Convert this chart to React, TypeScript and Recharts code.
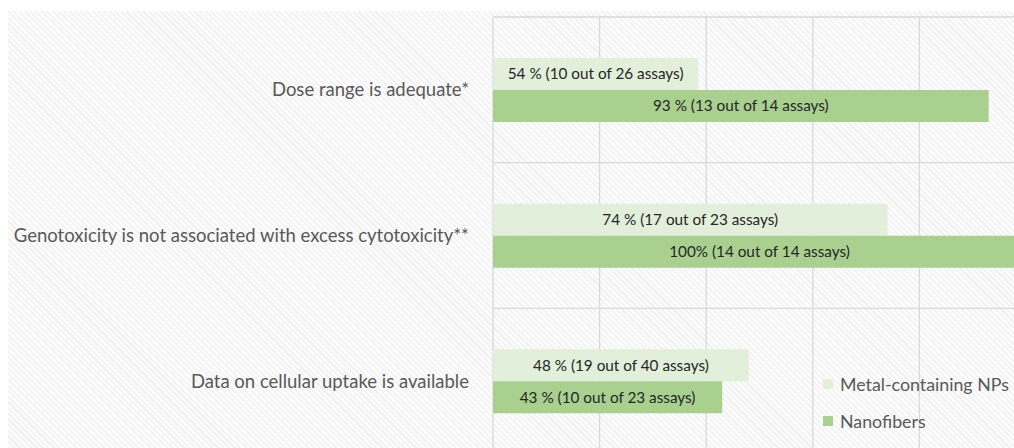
import { BarChart, Bar, XAxis, YAxis, CartesianGrid, LabelList } from "recharts"

// criteria (y axis), top to bottom
const categories = [
  "Dose range is adequate*",
  "Genotoxicity is not associated with excess cytotoxicity**",
  "Data on cellular uptake is available",
]

// bar lengths in % as drawn
const metalValues = [38.5, 74, 48]
const nanoValues = [93, 100, 43]

// text printed on the bars
const metalLabels = ["54 % (10 out of 26 assays)", "74 % (17 out of 23 assays)", "48 % (19 out of 40 assays)"]
const nanoLabels = ["93 % (13 out of 14 assays)", "100% (14 out of 14 assays)", "43 % (10 out of 23 assays)"]

const xTicks = [0, 20, 40, 60, 80, 100]

const data = categories.map((name, i) => ({
  name,
  metal: metalValues[i],
  nano: nanoValues[i],
  metalLabel: metalLabels[i],
  nanoLabel: nanoLabels[i],
}))

const FONT = "Lato, 'Open Sans', sans-serif"

const legendItems = [
  { name: "Metal-containing NPs", color: "#e2efda" },
  { name: "Nanofibers", color: "#a9d08e" },
]

// legend sits inside the plot, bottom right, like the Excel original
function LegendBox() {
  return (
    <div style={{ position: "absolute", left: 815, top: 354, fontFamily: FONT, fontSize: 17.8, color: "#595959" }}>
      {legendItems.map((it) => (
        <div key={it.name} style={{ display: "flex", alignItems: "center", height: 37, whiteSpace: "nowrap" }}>
          <span style={{ width: 10, height: 10, background: it.color, marginRight: 7, display: "inline-block" }} />
          {it.name}
        </div>
      ))}
    </div>
  )
}

export default function App() {
  return (
    <div style={{ position: "fixed", inset: 0, overflow: "hidden", background: "#fff" }}>
      <div
        style={{
          position: "absolute",
          left: 8,
          top: 11,
          width: 1100,
          height: 460,
          background: "repeating-linear-gradient(45deg, #f1f1f1 0px, #f1f1f1 1.5px, #fcfcfc 1.5px, #fcfcfc 4px)",
        }}
      >
        <BarChart
          width={1018}
          height={443}
          data={data}
          layout="vertical"
          barGap={0}
          margin={{ top: 6, right: 0, bottom: 0, left: 0 }}
        >
          <CartesianGrid
            stroke="#d9d9d9"
            strokeWidth={1.3}
            horizontalCoordinatesGenerator={({ offset }: any) =>
              categories.map((_, i) => offset.top + (i * offset.height) / categories.length)
            }
          />
          <XAxis type="number" domain={[0, 100]} ticks={xTicks} hide />
          <YAxis
            type="category"
            dataKey="name"
            width={485}
            axisLine={false}
            tickLine={false}
            tickSize={6}
            tickMargin={18}
            interval={0}
            tick={{ fontSize: 18.5, fill: "#595959", fontFamily: FONT }}
          />
          <Bar dataKey="metal" name="Metal-containing NPs" fill="#e2efda" barSize={32} isAnimationActive={false}>
            <LabelList dataKey="metalLabel" position="center" fill="#262626" fontSize={15.3} fontFamily={FONT} />
          </Bar>
          <Bar dataKey="nano" name="Nanofibers" fill="#a9d08e" barSize={32} isAnimationActive={false}>
            <LabelList dataKey="nanoLabel" position="center" fill="#262626" fontSize={15.3} fontFamily={FONT} />
          </Bar>
        </BarChart>
        <LegendBox />
      </div>
    </div>
  )
}
